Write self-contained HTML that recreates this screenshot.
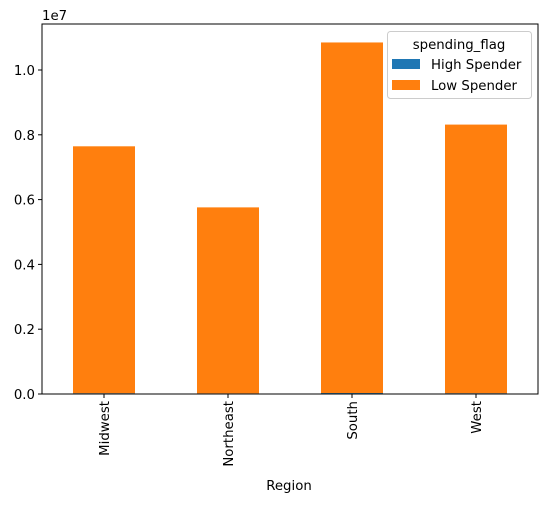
<!DOCTYPE html>
<html><head><meta charset="utf-8"><style>body{margin:0;background:#fff}svg{font-family:"DejaVu Sans","Liberation Sans",sans-serif}</style></head>
<body>
<svg id="c" width="547" height="502" viewBox="0 0 547 502"></svg>
<script>
const categories=["Midwest","Northeast","South","West"];
const highSpender=[0.025e6,0.02e6,0.03e6,0.025e6];
const lowSpender=[7.62e6,5.74e6,10.82e6,8.29e6];
const yTicks=[0,0.2e7,0.4e7,0.6e7,0.8e7,1.0e7];
const yTickLabels=["0.0","0.2","0.4","0.6","0.8","1.0"];
const L=42,R=538,T=24,B=394;
const FS=13.3;
const ns="http://www.w3.org/2000/svg",svg=document.getElementById('c');
function y(v){return B-v/1e7*324;}
function x(i){return L+(i+0.5)*(R-L)/categories.length;}
function mk(t,a,p){const e=document.createElementNS(ns,t);for(const k in a)e.setAttribute(k,a[k]);(p||svg).appendChild(e);return e;}
const bw=62;
categories.forEach((c,i)=>{
 let r=mk('rect',{x:x(i)-bw/2,y:y(highSpender[i]),width:bw,height:B-y(highSpender[i]),fill:'#1f77b4'});
 
 
 let r2=mk('rect',{x:x(i)-bw/2,y:y(highSpender[i]+lowSpender[i]),width:bw,height:y(highSpender[i])-y(highSpender[i]+lowSpender[i]),fill:'#ff7f0e'});
 
 
 mk('line',{x1:x(i),x2:x(i),y1:B,y2:B+4,stroke:'#000'});
 let t=mk('text',{x:0,y:0,'font-size':FS,'text-anchor':'end',transform:`translate(${x(i)+5},${B+7}) rotate(-90)`});
 t.textContent=c;
 
 
});
yTicks.forEach((v,i)=>{
 mk('line',{x1:L-4,x2:L,y1:y(v),y2:y(v),stroke:'#000'});
 let t=mk('text',{x:L-7,y:y(v)+5,'font-size':FS,'text-anchor':'end'});
 t.textContent=yTickLabels[i];
 
 
});
mk('rect',{x:L,y:T,width:R-L,height:B-T,fill:'none',stroke:'#000','stroke-width':1});
let e=mk('text',{x:42,y:20,'font-size':FS});e.textContent='1e7';


let xt=mk('text',{x:(L+R)/2-1,y:490,'font-size':FS,'text-anchor':'middle'});xt.textContent='Region';


const g=mk('g',{});


mk('rect',{x:387.5,y:31.5,width:144,height:67,rx:3,fill:'#fff',stroke:'#ccc','fill-opacity':0.8},g);
let lt=mk('text',{x:459,y:49,'font-size':FS,'text-anchor':'middle'},g);lt.textContent='spending_flag';
[['High Spender','#1f77b4',65],['Low Spender','#ff7f0e',86]].forEach(([n,col,yy])=>{
 mk('rect',{x:392,y:yy-6,width:28,height:10,fill:col},g);
 let t=mk('text',{x:431,y:yy+4,'font-size':FS},g);t.textContent=n;
 
 
});
</script>
</body></html>
